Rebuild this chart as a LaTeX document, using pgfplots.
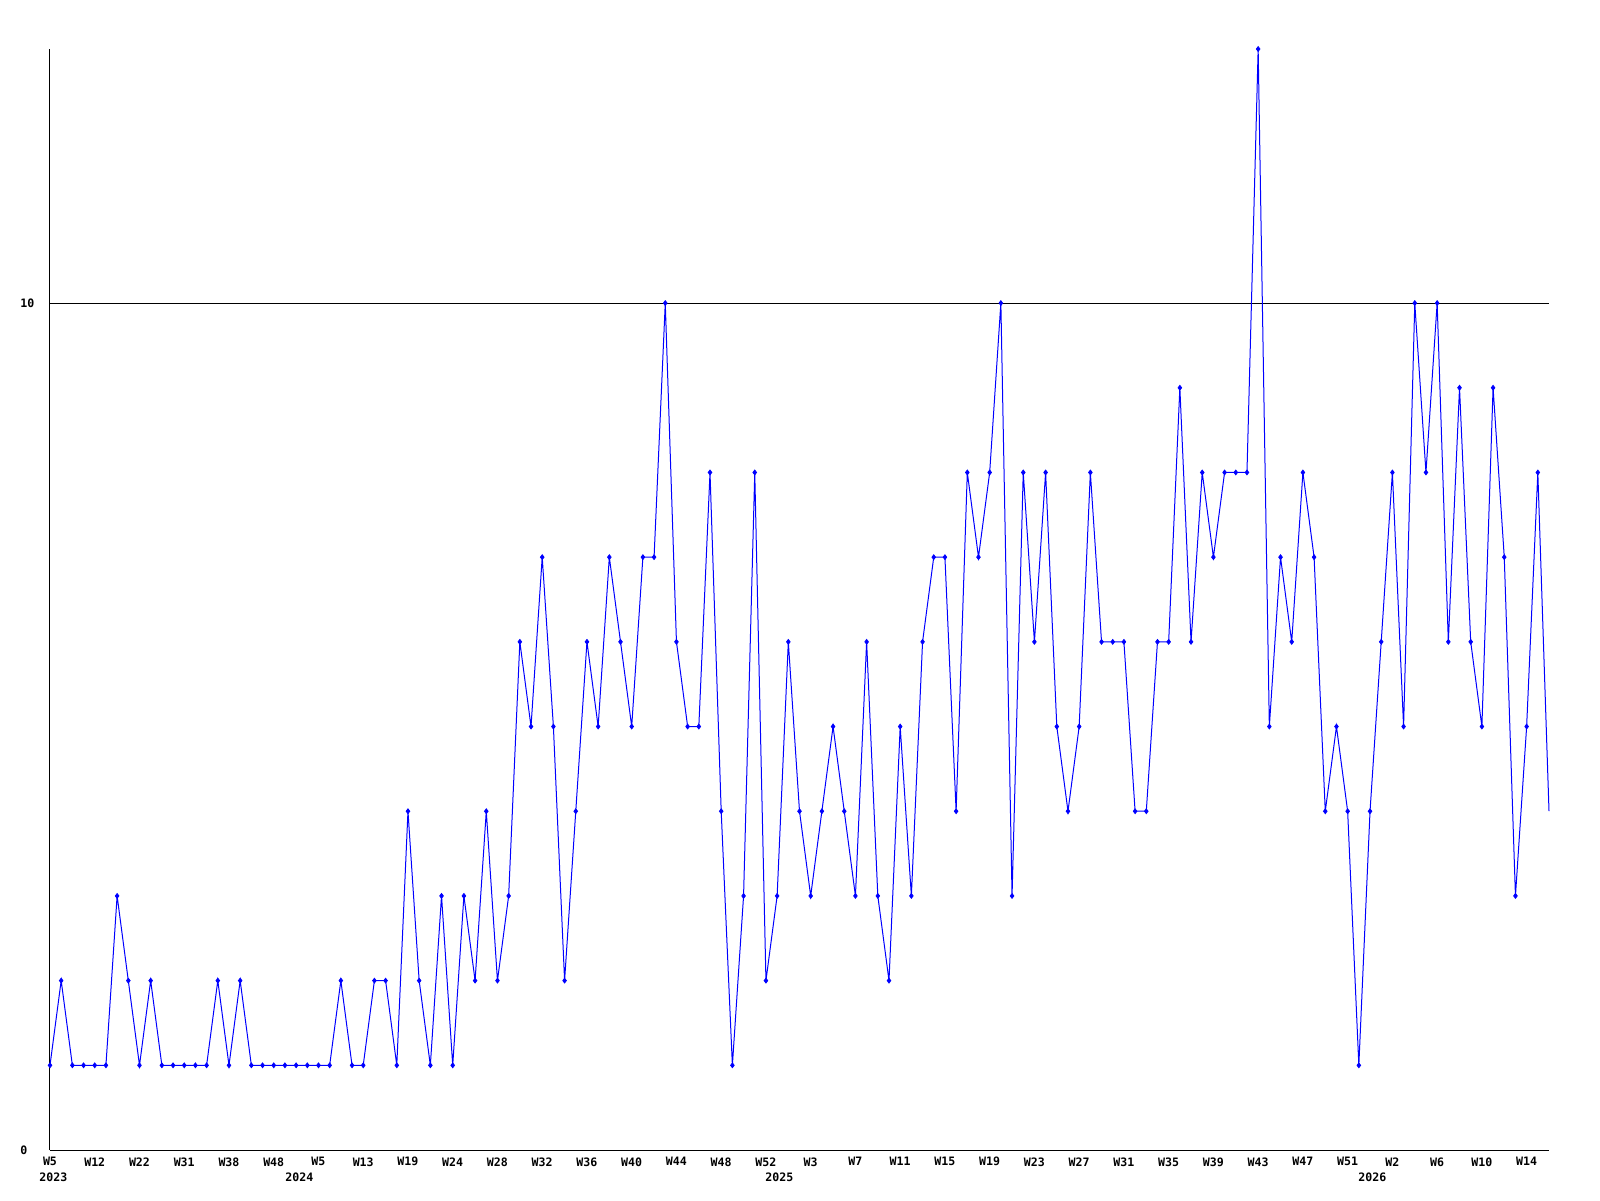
\documentclass[border=0pt]{standalone}
\usepackage{pgfplots}
\usepackage{pgfplotstable}
\pgfplotsset{compat=1.18}
\usepackage{fontspec}
\setmainfont{DejaVu Sans Mono}
\pgfplotstableread{
x y
0 1
1 2
2 1
3 1
4 1
5 1
6 3
7 2
8 1
9 2
10 1
11 1
12 1
13 1
14 1
15 2
16 1
17 2
18 1
19 1
20 1
21 1
22 1
23 1
24 1
25 1
26 2
27 1
28 1
29 2
30 2
31 1
32 4
33 2
34 1
35 3
36 1
37 3
38 2
39 4
40 2
41 3
42 6
43 5
44 7
45 5
46 2
47 4
48 6
49 5
50 7
51 6
52 5
53 7
54 7
55 10
56 6
57 5
58 5
59 8
60 4
61 1
62 3
63 8
64 2
65 3
66 6
67 4
68 3
69 4
70 5
71 4
72 3
73 6
74 3
75 2
76 5
77 3
78 6
79 7
80 7
81 4
82 8
83 7
84 8
85 10
86 3
87 8
88 6
89 8
90 5
91 4
92 5
93 8
94 6
95 6
96 6
97 4
98 4
99 6
100 6
101 9
102 6
103 8
104 7
105 8
106 8
107 8
108 13
109 5
110 7
111 6
112 8
113 7
114 4
115 5
116 4
117 1
118 4
119 6
120 8
121 5
122 10
123 8
124 10
125 6
126 9
127 6
128 5
129 9
130 7
131 3
132 5
133 8
134 4
}\datatable
\begin{document}
\begin{tikzpicture}
\path[use as bounding box] (-25pt,-25pt) rectangle (775pt,575pt);
\begin{axis}[
  at={(0,0)}, anchor=south west,
  scale only axis,
  width=749.5pt, height=550.5pt,
  xmin=0, xmax=134, ymin=0, ymax=13,
  axis lines=left,
  axis line style={-, black, line width=0.5pt},
  clip=false,
  major tick length=0pt,
  xtick={0,4,...,132},
  xticklabels={W5,W12,W22,W31,W38,W48,W5,W13,W19,W24,W28,W32,W36,W40,W44,W48,W52,W3,W7,W11,W15,W19,W23,W27,W31,W35,W39,W43,W47,W51,W2,W6,W10,W14},
  ytick={0,10},
  yticklabels={0,10},
  ymajorgrids,
  grid style={black, line width=0.5pt},
  tick label style={font=\fontsize{5.8}{6}\selectfont\bfseries, inner sep=0pt},
  xticklabel style={anchor=north, yshift=-3.5pt},
  yticklabel style={anchor=west, xshift=-15pt},
  extra x ticks={0.3,22.3,65.2,118.2},
  extra x tick labels={2023,2024,2025,2026},
  extra x tick style={xticklabel style={yshift=-7.5pt}, major tick length=0pt},
]
\addplot[blue, line width=0.5pt, no markers] table {\datatable};
\addplot[blue, only marks, mark=diamond*, mark size=1.2pt, restrict x to domain=0:133] table {\datatable};
\end{axis}
\end{tikzpicture}
\end{document}
